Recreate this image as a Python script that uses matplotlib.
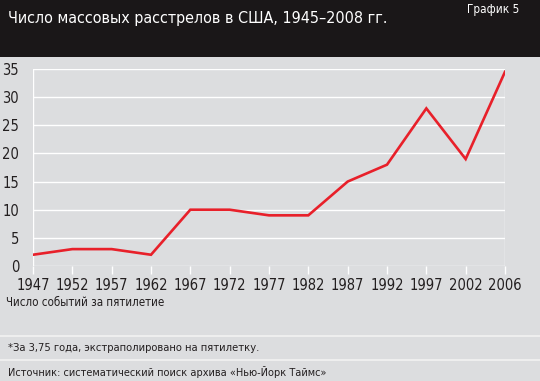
import matplotlib
matplotlib.use("Agg")
import matplotlib.pyplot as plt
from matplotlib.lines import Line2D

# data
years = ["1947", "1952", "1957", "1962", "1967", "1972", "1977",
         "1982", "1987", "1992", "1997", "2002", "2006"]
events = [2, 3, 3, 2, 10, 10, 9, 9, 15, 18, 28, 19, 34.5]
yticks = [0, 5, 10, 15, 20, 25, 30, 35]

title = "Число массовых расстрелов в США, 1945–2008 гг."
tag = "График 5"
ylabel = "Число событий за пятилетие"
note = "*За 3,75 года, экстраполировано на пятилетку."
source = "Источник: систематический поиск архива «Нью-Йорк Таймс»"

plt.rcParams['font.family'] = ['DejaVu Sans']
plt.rcParams['font.stretch'] = 'condensed'

bg = "#dcdddf"
ink = "#231f20"
fig = plt.figure(figsize=(5.40, 3.81), dpi=100, facecolor=bg)

# dark header
fig.patches.append(plt.Rectangle((0, 1 - 57/381), 1, 57/381, transform=fig.transFigure,
                                 facecolor="#1a1718", edgecolor="none", zorder=0))
fig.text(8/540, 1 - 18/381, title, color="white", fontsize=11.5, va="center", ha="left",
         stretch="condensed")
fig.text(519/540, 1 - 9/381, tag, color="white", fontsize=8.5, va="center", ha="right",
         stretch="condensed")

# separators
for yy in [336, 360]:
    fig.lines.append(Line2D([0, 1], [1 - yy/381, 1 - yy/381], transform=fig.transFigure,
                            color="#f2f2f2", lw=1.2))

ax = fig.add_axes([33/540, 1 - 266/381, (505 - 33)/540, (266 - 69)/381])
ax.set_facecolor(bg)
x = list(range(len(years)))
ax.plot(x, events, color="#e8202a", lw=1.9, zorder=3, solid_joinstyle="miter")
ax.set_xlim(0, len(years) - 1)
ax.set_ylim(0, 35)
ax.set_yticks(yticks)
ax.set_xticks(x)
ax.set_xticklabels(years, stretch="condensed")
ax.set_yticklabels([str(t) for t in yticks], stretch="condensed")
for s in ax.spines.values():
    s.set_visible(False)
for t in yticks:
    ax.axhline(t, color="white", lw=1, zorder=1)
ax.axvline(0, color="white", lw=1, zorder=1)
ax.axvline(len(years) - 1, color="white", lw=1, zorder=1)
ax.tick_params(axis="x", colors="white", length=6, width=1, pad=3, labelcolor=ink,
               labelsize=10.5)
ax.tick_params(axis="y", length=0, pad=10, labelcolor=ink, labelsize=10.5)

fig.text(6/540, 1 - 303/381, ylabel, color=ink, fontsize=8.3, va="center", ha="left",
         stretch="condensed")
fig.text(8/540, 1 - 348/381, note, color=ink, fontsize=8, va="center", ha="left",
         stretch="condensed")
fig.text(8/540, 1 - 372/381, source, color=ink, fontsize=7.8, va="center", ha="left",
         stretch="condensed")

fig.savefig("out.png", dpi=100, facecolor=bg)
